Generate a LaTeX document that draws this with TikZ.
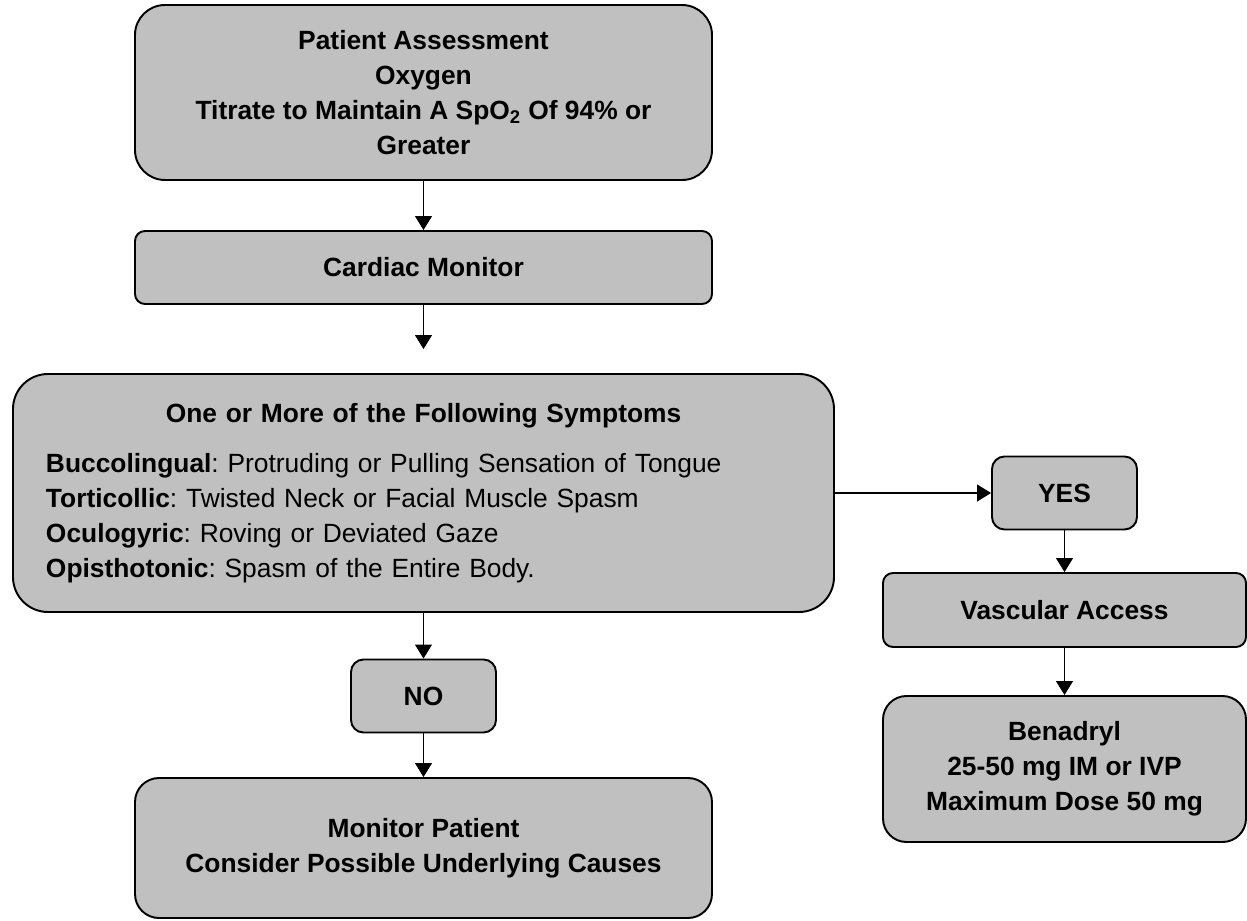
\documentclass[tikz,border=0pt]{standalone}
\usepackage{fontspec}
\setmainfont{Liberation Sans}
\usepackage{xcolor}
\usepackage{tikz}
\usetikzlibrary{arrows.meta, positioning}

\definecolor{boxgray}{RGB}{192,192,192}
\newcommand{\chartfont}{\fontsize{15}{19.9}\selectfont}
\frenchspacing

\begin{document}
\begin{tikzpicture}[on grid, >={Triangle[length=0.28cm,width=0.34cm]}, font=\chartfont]
  \tikzstyle{box}=[draw, line width=1.1pt, fill=boxgray, align=center, inner sep=0pt, font=\chartfont\bfseries]
  \tikzstyle{answer}=[box, minimum width=2.9cm, minimum height=1.46cm, rounded corners=0.25cm]

  \useasboundingbox (-8.47,1.85) rectangle (16.47,-16.57);

  \node[box, minimum width=11.54cm, minimum height=3.5cm, rounded corners=0.6cm](assess)
    {Patient Assessment\\Oxygen\\Titrate to Maintain A SpO\textsubscript{2} Of 94\% or\\Greater};
  \node[box, minimum width=11.54cm, minimum height=1.46cm, rounded corners=0.2cm](cardiac)[below=3.5cm of assess]
    {Cardiac Monitor};
  \node[box, minimum width=16.42cm, minimum height=4.76cm, rounded corners=0.7cm,
        text width=15.1cm, align=left, font=\chartfont](symptoms)[below=4.51cm of cardiac]
    {\makebox[\linewidth]{\textbf{One or More of the Following Symptoms}}\\[0.3cm]
     \textbf{Buccolingual}: Protruding or Pulling Sensation of Tongue\\
     \textbf{Torticollic}: Twisted Neck or Facial Muscle Spasm\\
     \textbf{Oculogyric}: Roving or Deviated Gaze\\
     \textbf{Opisthotonic}: Spasm of the Entire Body.};
  \node[answer](no)[below=4.06cm of symptoms]{NO};
  \node[box, minimum width=11.54cm, minimum height=2.8cm, rounded corners=0.48cm](monitor)[below=3.04cm of no]
    {Monitor Patient\\Consider Possible Underlying Causes};
  \node[answer](yes)[right=12.82cm of symptoms]{YES};
  \node[box, minimum width=7.26cm, minimum height=1.48cm, rounded corners=0.2cm](vascular)[below=2.34cm of yes]
    {Vascular Access};
  \node[box, minimum width=7.26cm, minimum height=2.92cm, rounded corners=0.47cm](benadryl)[below=3.18cm of vascular]
    {Benadryl\\25-50 mg IM or IVP\\Maximum Dose 50 mg};

  \path[->, line width=0.6pt]
  (assess)   edge                       (cardiac)
  (cardiac)  edge [shorten >=0.48cm]    (symptoms)
  (symptoms) edge                       (no)
             edge                       (yes)
  (no)       edge                       (monitor)
  (yes)      edge                       (vascular)
  (vascular) edge                       (benadryl);
\end{tikzpicture}
\end{document}
